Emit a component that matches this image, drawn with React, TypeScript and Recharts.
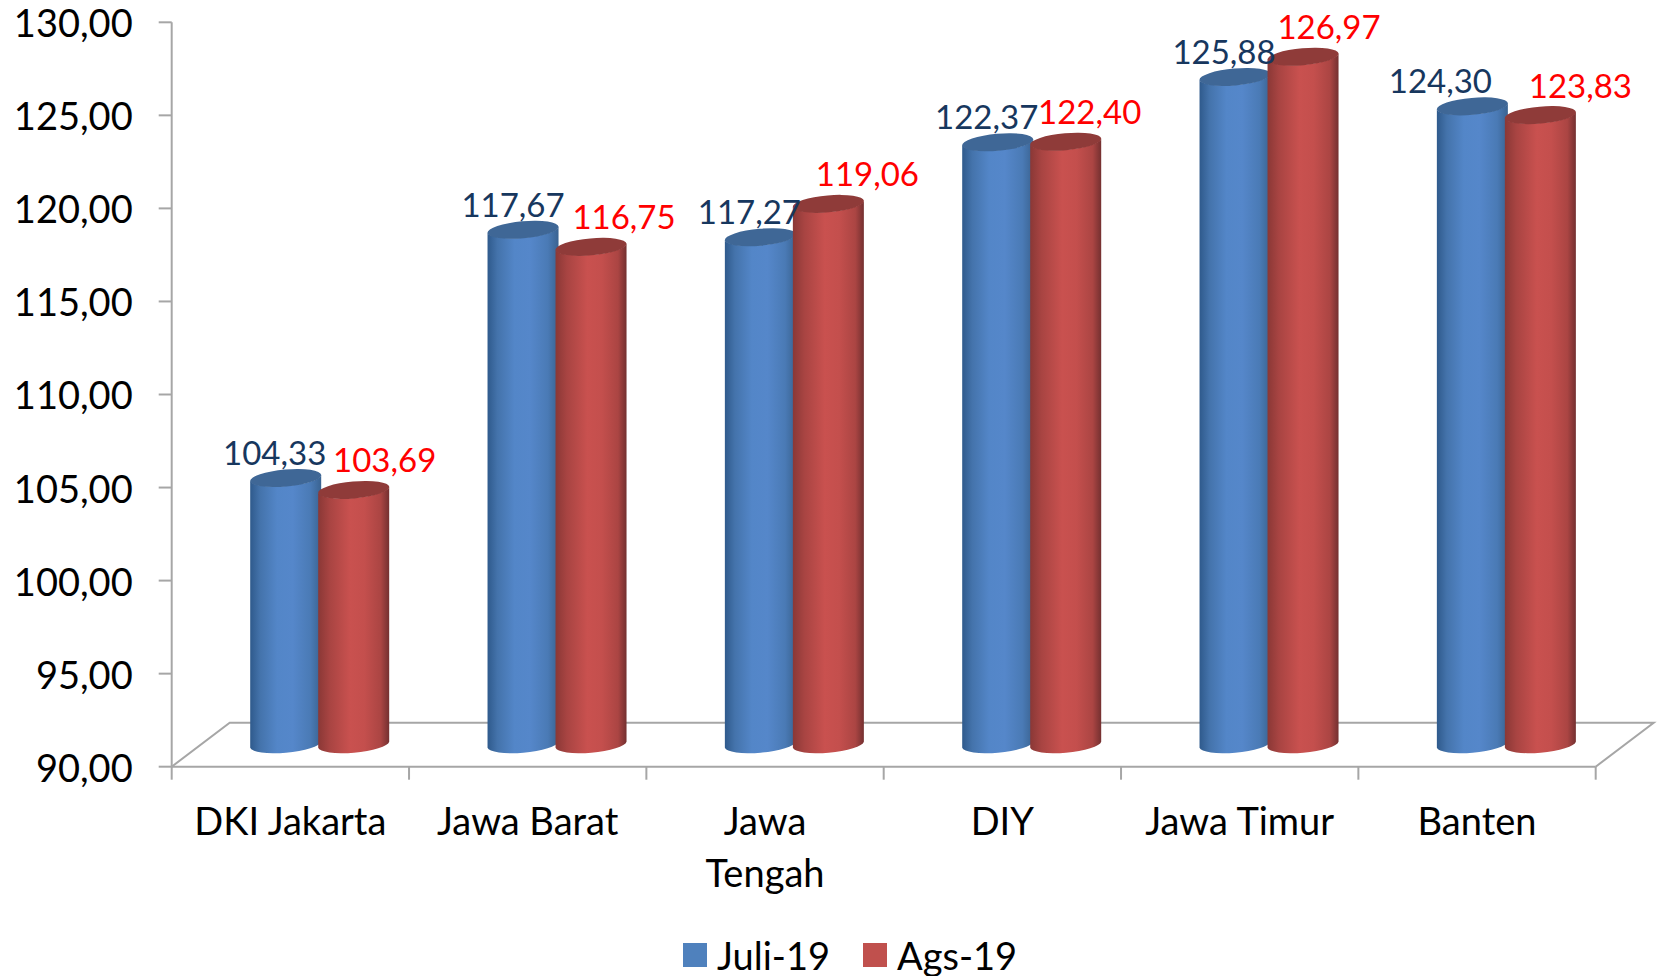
import { Bar, BarChart, LabelList, Legend, XAxis, YAxis } from "recharts";

const categories = ["DKI Jakarta", "Jawa Barat", "Jawa Tengah", "DIY", "Jawa Timur", "Banten"];
const juliValues = [104.33, 117.67, 117.27, 122.37, 125.88, 124.3];
const agsValues = [103.69, 116.75, 119.06, 122.4, 126.97, 123.83];
const yTicks = [90, 95, 100, 105, 110, 115, 120, 125, 130];

const rows = categories.map((name, i) => ({ name, juli: juliValues[i], ags: agsValues[i] }));

// layout of the picture
const W = 1657;
const H = 976;
const PLOT_LEFT = 171.7;
const PLOT_RIGHT = 1595.7;
const PLOT_TOP = 22.3;
const PLOT_BOTTOM = 766.7;
const Y_AXIS_W = 150;
const X_AXIS_H = 60;
const DEPTH_X = 58;
const DEPTH_Y = 44;
const BAND = (PLOT_RIGHT - PLOT_LEFT) / categories.length;
const GREY = "#a6a6a6";
const FONT = "Lato, sans-serif";

// label nudges from the bar centre, per category
const juliNudge = [-11, -10, -11, -11, -11, -32];
const agsNudge = [31, 33, 39, 24, 26, 40];

const fmt = (v: number) => v.toFixed(2).replace(".", ",");

function Cylinder(props: any) {
  const { x, y, width, height, dataKey } = props;
  const blue = dataKey === "juli";
  const w = width + 3;
  const left = x - 1.5 + DEPTH_X / 2;
  const top = y - DEPTH_Y / 2;
  const bottom = y + height - DEPTH_Y / 2;
  const rx = w / 2 + 0.2;
  const ry = 8.5;
  const s = 3;
  const body =
    `M${left},${top + s} L${left},${bottom + s} ` +
    `A${rx},${ry} -5 0 0 ${left + w},${bottom - s} ` +
    `L${left + w},${top - s} A${rx},${ry} -5 0 1 ${left},${top + s} Z`;
  return (
    <g>
      <path d={body} fill={blue ? "url(#cylBlue)" : "url(#cylRed)"} />
      <ellipse
        cx={left + w / 2}
        cy={top}
        rx={rx}
        ry={ry}
        transform={`rotate(-5 ${left + w / 2} ${top})`}
        fill={blue ? "#3f6796" : "#8f3b39"}
      />
    </g>
  );
}

function Floor() {
  const d =
    `M${PLOT_LEFT},${PLOT_BOTTOM} L${PLOT_LEFT + DEPTH_X},${PLOT_BOTTOM - DEPTH_Y} ` +
    `L${PLOT_RIGHT + DEPTH_X},${PLOT_BOTTOM - DEPTH_Y} L${PLOT_RIGHT},${PLOT_BOTTOM}`;
  return <path d={d} fill="none" stroke={GREY} strokeWidth={2} />;
}

function CategoryTick({ x, payload, index }: any) {
  const words = payload.value === "Jawa Tengah" ? ["Jawa", "Tengah"] : [payload.value];
  const tickAt = (tx: number) => (
    <line x1={tx} x2={tx} y1={PLOT_BOTTOM} y2={PLOT_BOTTOM + 13} stroke={GREY} strokeWidth={2} />
  );
  return (
    <g>
      {tickAt(x - BAND / 2)}
      {index === categories.length - 1 && tickAt(x + BAND / 2)}
      <text x={x} textAnchor="middle" fill="#000" fontSize={38} fontFamily={FONT}>
        {words.map((word: string, i: number) => (
          <tspan key={word} x={x} y={835 + i * 52}>
            {word}
          </tspan>
        ))}
      </text>
    </g>
  );
}

function makeValueLabel(nudge: number[], color: string, lift: number) {
  return function ValueLabel({ x, y, width, value, index }: any) {
    return (
      <text
        x={x + width / 2 + DEPTH_X / 2 + nudge[index]}
        y={y - DEPTH_Y / 2 - lift}
        textAnchor="middle"
        fill={color}
        fontSize={33}
        fontFamily={FONT}
      >
        {fmt(value)}
      </text>
    );
  };
}

function LegendBox({ payload }: any) {
  return (
    <div style={{ position: "relative", height: 50, fontFamily: FONT, fontSize: 38, color: "#000" }}>
      {(payload || []).map((entry: any, i: number) => (
        <div key={entry.value} style={{ position: "absolute", left: 683 + i * 180, top: 0, display: "flex", alignItems: "center", height: 50 }}>
          <span style={{ width: 24, height: 24, background: entry.color, marginRight: 10 }} />
          <span>{entry.value}</span>
        </div>
      ))}
    </div>
  );
}

export default function App() {
  return (
    <div style={{ position: "absolute", left: 0, top: 0, width: W, height: H, background: "#fff" }}>
      <BarChart
        width={W}
        height={H}
        data={rows}
        barSize={68}
        barGap={0}
        margin={{
          top: PLOT_TOP,
          right: W - PLOT_RIGHT,
          bottom: H - PLOT_BOTTOM - X_AXIS_H,
          left: PLOT_LEFT - Y_AXIS_W,
        }}
      >
        <defs>
          <linearGradient id="cylBlue" x1="0" y1="0" x2="1" y2="0">
            <stop offset="0%" stopColor="#2f5a8c" />
            <stop offset="14%" stopColor="#4473ab" />
            <stop offset="38%" stopColor="#5386c8" />
            <stop offset="60%" stopColor="#5587ca" />
            <stop offset="85%" stopColor="#4a7ab5" />
            <stop offset="100%" stopColor="#3a6391" />
          </linearGradient>
          <linearGradient id="cylRed" x1="0" y1="0" x2="1" y2="0">
            <stop offset="0%" stopColor="#8a3836" />
            <stop offset="16%" stopColor="#a84442" />
            <stop offset="45%" stopColor="#c9514f" />
            <stop offset="65%" stopColor="#c44f4d" />
            <stop offset="88%" stopColor="#ab4543" />
            <stop offset="100%" stopColor="#743030" />
          </linearGradient>
        </defs>
        <Floor />
        <XAxis
          dataKey="name"
          interval={0}
          height={X_AXIS_H}
          tickLine={false}
          axisLine={{ stroke: GREY, strokeWidth: 2 }}
          tick={<CategoryTick />}
        />
        <YAxis
          width={Y_AXIS_W}
          domain={[90, 130]}
          ticks={yTicks}
          interval={0}
          tickFormatter={fmt}
          tickSize={13}
          tickMargin={26}
          axisLine={{ stroke: GREY, strokeWidth: 2 }}
          tickLine={{ stroke: GREY, strokeWidth: 2 }}
          tick={{ fill: "#000", fontSize: 38, fontFamily: FONT, dy: 1.5 }}
        />
        <Legend
          layout="horizontal"
          verticalAlign="middle"
          align="center"
          itemSorter={null}
          wrapperStyle={{ top: 930, left: 0, width: W }}
          content={<LegendBox />}
        />
        <Bar dataKey="juli" name="Juli-19" fill="#4f81bd" shape={<Cylinder dataKey="juli" />} isAnimationActive={false}>
          <LabelList dataKey="juli" content={makeValueLabel(juliNudge, "#17375e", 13)} />
        </Bar>
        <Bar dataKey="ags" name="Ags-19" fill="#c0504d" shape={<Cylinder dataKey="ags" />} isAnimationActive={false}>
          <LabelList dataKey="ags" content={makeValueLabel(agsNudge, "#ff0000", 17.5)} />
        </Bar>
      </BarChart>
    </div>
  );
}
